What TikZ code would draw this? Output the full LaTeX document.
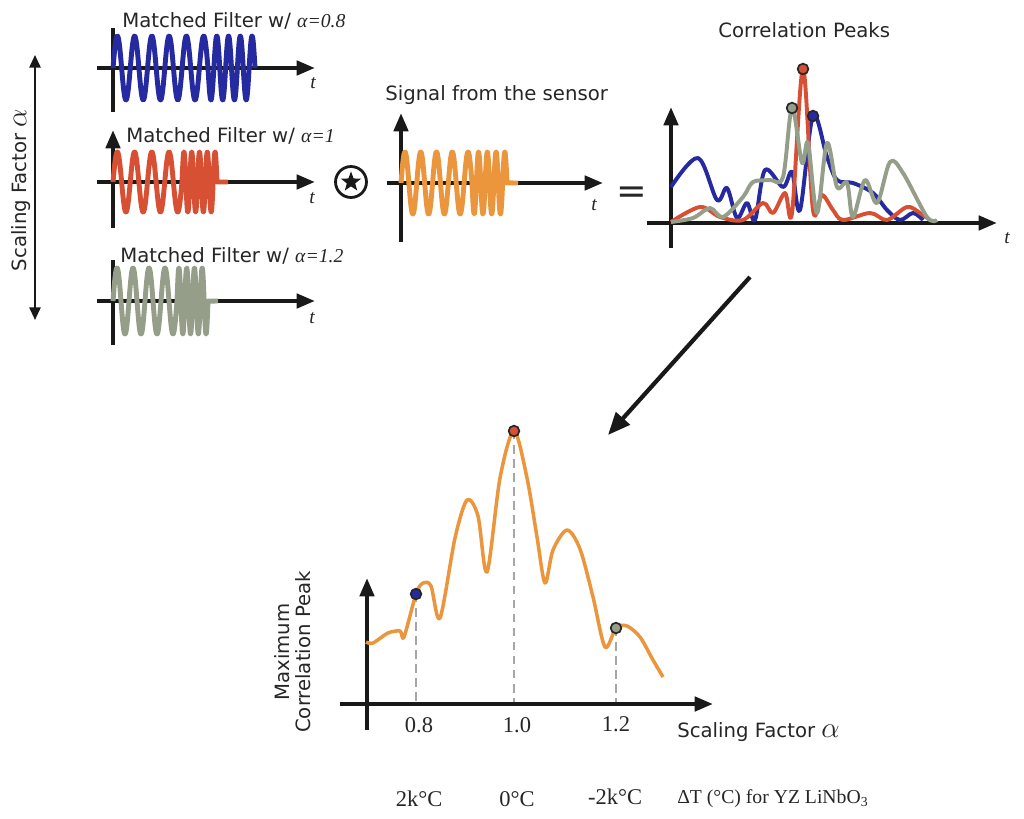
\documentclass[tikz,border=0pt]{standalone}
\usepackage{fontspec}
\setmainfont{DejaVu Sans}
\newfontfamily\seriffont{Liberation Serif}
\usepackage{tikz}
\usetikzlibrary{
    positioning,
    arrows.meta,
    shapes.geometric
}
\definecolor{mfblue}{RGB}{38,42,160}
\definecolor{mfred}{RGB}{216,80,52}
\definecolor{mfgrey}{RGB}{148,158,136}
\definecolor{sigorange}{RGB}{235,150,60}

\tikzset{
    txt/.style={font=\fontsize{14}{17}\selectfont, text=black!85, inner sep=0pt},
    num/.style={font=\seriffont\fontsize{16}{19}\selectfont, text=black!85, inner sep=0pt},
    tlabel/.style={font=\seriffont\itshape\fontsize{14}{17}\selectfont, text=black!85, inner sep=0pt},
    axis/.style={line width=3pt, black!90},
    axarrow/.style={axis, -{Triangle[length=13pt,width=10pt]}},
    wave/.style={line width=3.5pt, line join=round},
    corr/.style={line width=2.8pt, smooth, tension=0.55, line join=round},
    peakmark/.style={draw=black!85, line width=1.2pt},
    guide/.style={gray!70, line width=2pt, dash pattern=on 6pt off 4pt}
}
\newcommand{\bigalpha}{{\fontsize{21}{21}\selectfont$\alpha$}}

\begin{document}
\begin{tikzpicture}[x=0.025cm, y=-0.025cm]
\useasboundingbox (0,0) rectangle (1024,819);

% 左のスケール矢印
\coordinate (sfTop) at (35,55);
\coordinate (sfBot) at (35,320);
\draw[line width=1.4pt, black!90, {Triangle[length=9pt,width=8pt]}-{Triangle[length=9pt,width=8pt]}] (sfTop) -- (sfBot);
\node[txt, rotate=90] (sfLabel) at (21,190) {Scaling Factor \bigalpha};

% マッチドフィルタ (alpha=0.8)
\draw[axis] (113,28) -- (113,112);
\draw[axarrow] (97,68) -- (315,68);
\draw[wave, mfblue] plot[domain=113:255, samples=400]
    (\x, {68 - 32*sin(360*(\x<208 ? 5.5*(\x-113)/95 : 5.5+4*(\x-208)/47))});
\node[txt, anchor=base west] (mfBlue) at (122,28) {Matched Filter w/ {\seriffont\itshape α=0.8}};
\node[tlabel] (tBlue) at (313,83) {t};

% マッチドフィルタ (alpha=1)
\draw[axarrow] (113,228) -- (113,130);
\draw[axarrow] (97,182) -- (315,182);
\draw[wave, mfred] plot[domain=113:217, samples=400]
    (\x, {182 - 30*sin(360*(\x<182 ? 4*(\x-113)/69 : 4+4.5*(\x-182)/35))}) -- (228,182);
\node[txt, anchor=base west] (mfRed) at (126,143) {Matched Filter w/ {\seriffont\itshape α=1}};
\node[tlabel] (tRed) at (312,198) {t};

% マッチドフィルタ (alpha=1.2)
\draw[axis] (113,260) -- (113,345);
\draw[axarrow] (97,301) -- (315,301);
\draw[wave, mfgrey] plot[domain=113:208, samples=400]
    (\x, {301 - 33*sin(360*(\x<177 ? 4*(\x-113)/64 : 4+4*(\x-177)/31))}) -- (218,301);
\node[txt, anchor=base west] (mfGrey) at (120,263) {Matched Filter w/ {\seriffont\itshape α=1.2}};
\node[tlabel] (tGrey) at (312,318) {t};

% 相関記号
\node[circle, draw=black!90, line width=2pt, minimum size=22pt, inner sep=0pt] (conv) at (351,182) {};
\node[star, star points=5, star point ratio=2.4, fill=black!90, minimum size=15pt, inner sep=0pt] (convStar) at (conv) {};

% センサ信号
\draw[axarrow] (401,242) -- (401,113);
\draw[axarrow] (387,183) -- (603,183);
\draw[wave, sigorange] plot[domain=401:507, samples=400]
    (\x, {183 - 31*sin(360*(\x<472 ? 4.5*(\x-401)/71 : 4.5+4*(\x-472)/35))}) -- (518,183);
\node[txt, anchor=base west] (sigTitle) at (385,101) {Signal from the sensor};
\node[tlabel] (tSig) at (594,205) {t};

\node[txt, font=\fontsize{26}{26}\selectfont] (eq) at (632,195) {=};

% 相関ピーク
\draw[axarrow] (671,248) -- (671,107);
\draw[axarrow] (647,223) -- (997,223);
\draw[corr, mfblue] plot coordinates {(671,187) (698,158) (717,200) (727,188) (737,218) (747,203) (755,220) (765,170) (783,187) (792,172) (800,210) (813,116) (827,157) (837,180) (853,183) (873,193) (887,210) (900,220) (913,213) (923,220)};
\draw[corr, mfred] plot coordinates {(671,222) (700,207) (720,217) (743,220) (763,203) (773,213) (785,193) (792,213) (803,69) (813,210) (822,195) (833,210) (843,220) (870,213) (887,220) (907,207) (920,213) (930,220)};
\draw[corr, mfgrey] plot coordinates {(671,222) (693,218) (710,208) (723,217) (743,197) (753,182) (770,180) (783,177) (792,108) (802,163) (808,143) (817,213) (827,143) (837,187) (847,183) (853,217) (865,180) (877,203) (890,162) (903,173) (927,217) (937,220)};
\fill[mfred, peakmark] (803,69) circle[radius=3.8pt];
\fill[mfgrey, peakmark] (792,108) circle[radius=3.8pt];
\fill[mfblue, peakmark] (813,116) circle[radius=3.8pt];
\node[txt, anchor=base west] (corrTitle) at (718,38) {Correlation Peaks};
\node[tlabel] (tCorr) at (1007,238) {t};

% 矢印
\coordinate (peaksOut) at (750,277);
\coordinate (maxIn) at (608,435);
\draw[line width=3pt, black!90, -{Triangle[length=16pt,width=13pt]}] (peaksOut) -- (maxIn);

% 最大相関ピーク
\coordinate (a08) at (416,594);
\coordinate (a10) at (514,431);
\coordinate (a12) at (616,628);
\draw[guide] (a08) -- (416,704);
\draw[guide] (a10) -- (514,704);
\draw[guide] (a12) -- (616,704);
\draw[axarrow] (367,730) -- (367,578);
\draw[axarrow] (340,704) -- (713,704);
\draw[line width=2.5pt, sigorange, smooth, tension=0.5, line join=round] plot coordinates {(366,642) (373,643) (388,633) (400,631) (404,637) (416,594) (423,583) (431,586) (440,618) (455,538) (467,500) (478,516) (487,572) (500,478) (514,431) (527,478) (537,537) (545,583) (553,550) (567,530) (580,549) (593,597) (605,647) (616,628) (627,626) (640,637) (653,660) (663,677)};
\fill[mfblue, peakmark] (a08) circle[radius=3.8pt];
\fill[mfred, peakmark] (a10) circle[radius=3.8pt];
\fill[mfgrey, peakmark] (a12) circle[radius=3.8pt];
\node[txt, font=\fontsize{14}{15}\selectfont, rotate=90, align=center] (yLabel) at (293,652) {Maximum\\Correlation Peak};
\node[txt, anchor=base west] (xLabel) at (677,737) {Scaling Factor \bigalpha};

% 目盛りと温度
\node[num, anchor=base] (n08) at (419,732) {0.8};
\node[num, anchor=base] (n10) at (517,732) {1.0};
\node[num, anchor=base] (n12) at (616,731) {1.2};
\node[num, anchor=base] (d08) at (419,806) {2k°C};
\node[num, anchor=base] (d10) at (517,806) {0°C};
\node[num, anchor=base] (d12) at (615,804) {-2k°C};
\node[num, anchor=base west, font=\seriffont\fontsize{14}{17}\selectfont] (dT) at (677,803) {ΔT (°C) for YZ LiNbO\textsubscript{3}};
\end{tikzpicture}
\end{document}
